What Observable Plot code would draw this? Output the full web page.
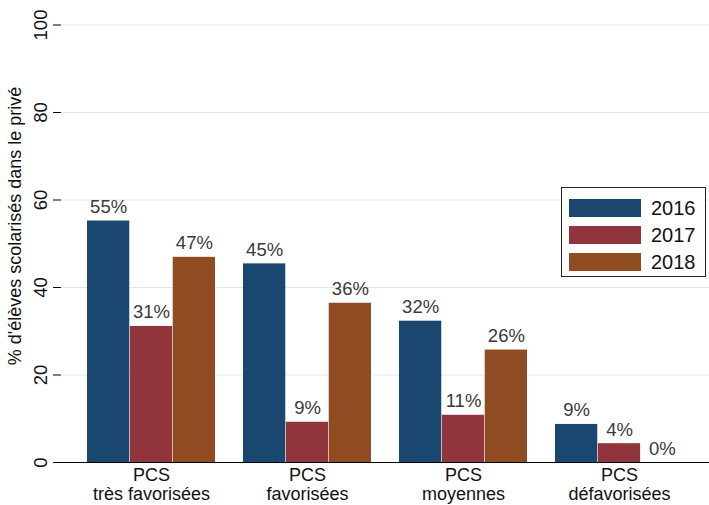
<!DOCTYPE html>
<html>
<head>
<meta charset="utf-8">
<script src="https://cdn.jsdelivr.net/npm/d3@7"></script>
<script src="https://cdn.jsdelivr.net/npm/@observablehq/plot@0.6"></script>
<style>
  html, body { margin: 0; padding: 0; background: #fff; }
  #wrap { position: relative; width: 709px; height: 505px; font-family: "Liberation Sans", Arial, sans-serif; }
  #legend { position: absolute; left: 561px; top: 187px; width: 145px; height: 90px; border: 1px solid #222; background: #fff; box-sizing: border-box; }
  .item { position: absolute; left: 7px; height: 18px; }
  .sw { position: absolute; left: 0; top: 0; width: 72px; height: 18px; }
  .lb { position: absolute; left: 82px; top: -2px; font-size: 20px; color: #111; line-height: 22px; }
</style>
</head>
<body>
<div id="wrap"></div>
<script>
const groups = ["PCS\ntrès favorisées", "PCS\nfavorisées", "PCS\nmoyennes", "PCS\ndéfavorisées"];
const years = ["2016", "2017", "2018"];
const v2016 = [55.2, 45.4, 32.3, 8.7];
const v2017 = [31.1, 9.2, 10.8, 4.3];
const v2018 = [46.9, 36.4, 25.7, 0];
const yTicks = [0, 20, 40, 60, 80, 100];
const colors = ["#1a476f", "#90353b", "#8f4c22"];
const yTitle = "% d'élèves scolarisés dans le privé";

const series = [v2016, v2017, v2018];

const W = 709, H = 505, ML = 61, MR = 0, MT = 7, MB = 43;
const PAD_IN = 0.178, PAD_OUT = 0.16;
const font = "Liberation Sans, Arial, sans-serif";

// width of one year's bar inside a group band, derived from the same band scale Plot builds
const bandW = d3.scaleBand(groups, [ML, W - MR]).paddingInner(PAD_IN).paddingOuter(PAD_OUT).bandwidth();
const sub = bandW / years.length;

const yearMarks = years.flatMap((yr, j) => {
  const rows = groups.map((g, i) => ({group: g, year: yr, value: series[j][i]}));
  const insetLeft = j * sub, insetRight = (years.length - 1 - j) * sub;
  return [
    Plot.barY(rows, {x: "group", y: "value", fill: colors[j], insetLeft, insetRight}),
    Plot.text(rows, {x: "group", y: "value", text: d => Math.round(d.value) + "%",
      dx: (j - (years.length - 1) / 2) * sub, dy: -8, lineAnchor: "bottom", fontSize: 18.5, fill: "#3a3a3a"})
  ];
});

const chart = Plot.plot({
  width: W,
  height: H,
  marginLeft: ML,
  marginRight: MR,
  marginTop: MT,
  marginBottom: MB,
  style: {fontFamily: font, background: "#fff"},
  x: {domain: groups, paddingInner: PAD_IN, paddingOuter: PAD_OUT, axis: null},
  y: {domain: [0, 104], axis: null},
  marks: [
    Plot.gridY(yTicks.slice(1), {stroke: "#dde8ec", strokeOpacity: 1}),
    ...yearMarks,
    Plot.ruleY([0], {stroke: "#000"}),
    Plot.ruleX([0], {frameAnchor: "left", stroke: "#000"}),
    Plot.axisY({ticks: yTicks, tickSize: 8, tickFormat: () => "", label: null, stroke: "#000"}),
    Plot.text(yTicks, {y: d => d, text: d => String(d), frameAnchor: "left",
      dx: -15, rotate: -90, textAnchor: "middle", lineAnchor: "bottom", fontSize: 18.5, fill: "#111"}),
    Plot.text([yTitle], {frameAnchor: "left", dx: -46, dy: -9, rotate: -90,
      textAnchor: "middle", lineAnchor: "middle", fontSize: 18, fill: "#111"}),
    Plot.axisX({anchor: "bottom", tickSize: 0, tickPadding: 5, fontSize: 18, lineHeight: 1.05, label: null, fill: "#111"})
  ]
});

const wrap = document.getElementById("wrap");
wrap.appendChild(chart);

const legend = document.createElement("div");
legend.id = "legend";
years.forEach((yr, j) => {
  const it = document.createElement("div");
  it.className = "item";
  it.style.top = (11 + j * 27) + "px";
  it.innerHTML = `<div class="sw" style="background:${colors[j]}"></div><div class="lb">${yr}</div>`;
  legend.appendChild(it);
});
wrap.appendChild(legend);
</script>
</body>
</html>
